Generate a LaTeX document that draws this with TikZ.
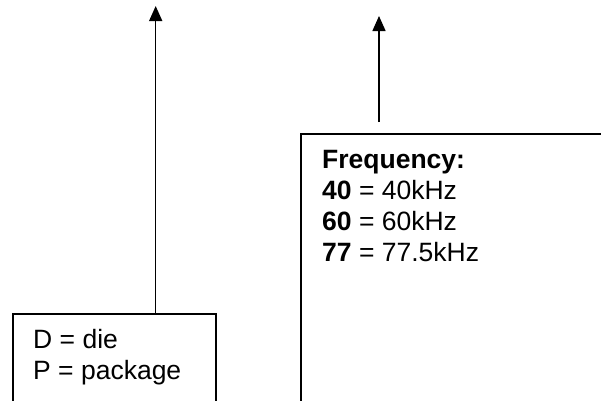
\documentclass[tikz,border=0pt]{standalone}
\usepackage{fontspec}
\setmainfont{Liberation Sans}
\usetikzlibrary{arrows.meta, positioning}
\tikzstyle{legendbox}  = [rectangle, draw=black, line width=1.5pt, anchor=north west, inner sep=0pt]
\tikzstyle{legendtext} = [anchor=north west, inner sep=0pt, align=left,
                          font=\fontsize{26.5}{31}\selectfont]
\tikzstyle{arrow}      = [line width=1.5pt, -{Triangle[width=13pt,length=15pt]}]

\begin{document}
\begin{tikzpicture}[x=1pt, y=-1pt]
  \useasboundingbox (0,0) rectangle (601,400);
  \node (pkgbox)   [legendbox, minimum width=203pt, minimum height=120pt] at (12,313) {};
  \node (freqbox)  [legendbox, minimum width=320pt, minimum height=300pt] at (300,133) {};
  \node (pkgtext)  [legendtext] at (33,329) {D = die\\P = package};
  \node (freqtext) [legendtext] at (322,150)
        {\textbf{Frequency:}\\\textbf{40} = 40kHz\\\textbf{60} = 60kHz\\\textbf{77} = 77.5kHz};

  \coordinate (pkgtip)   at (155.7,6);
  \coordinate (freqfoot) at (379,122);
  \coordinate (freqtip)  at (379,16);
  \draw[arrow] (pkgbox.north -| pkgtip) -- (pkgtip);
  \draw[arrow] (freqfoot) -- (freqtip);
\end{tikzpicture}
\end{document}
